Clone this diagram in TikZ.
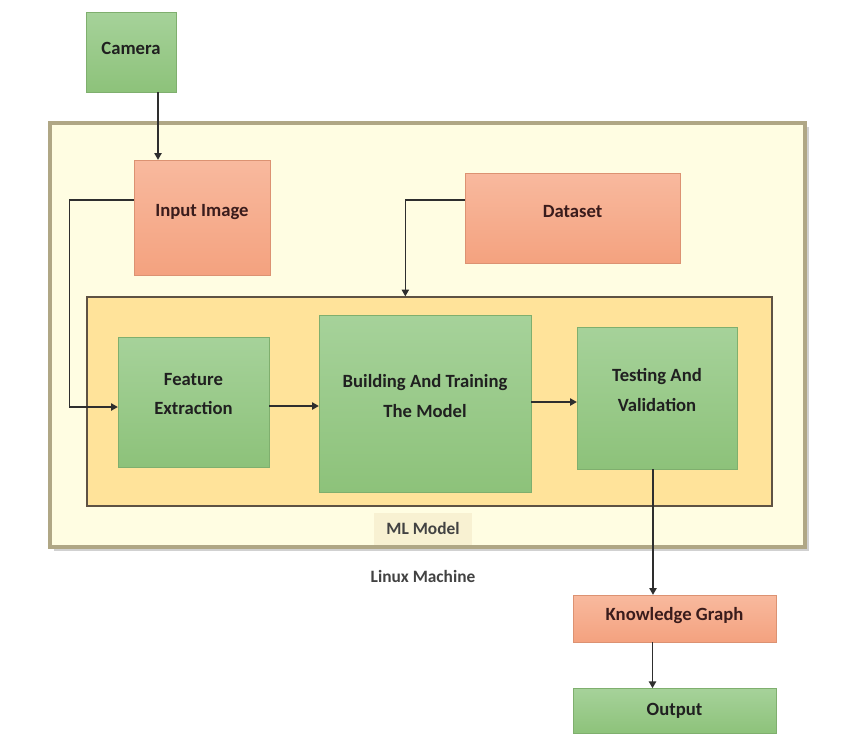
\documentclass[tikz,border=0pt]{standalone}
\usepackage{fontspec}
\setmainfont{Carlito}
\usetikzlibrary{arrows.meta,calc}
\definecolor{greenTop}{HTML}{A6D29A}
\definecolor{greenBot}{HTML}{8DC27A}
\definecolor{salTop}{HTML}{F8B99E}
\definecolor{salBot}{HTML}{F4A27F}
\definecolor{linuxFill}{HTML}{FFFDE2}
\definecolor{linuxEdge}{HTML}{B0A785}
\definecolor{mlFill}{HTML}{FFE39A}
\definecolor{mlEdge}{HTML}{5E5243}
\definecolor{mlLblFill}{HTML}{F8F1D2}
\definecolor{lineCol}{HTML}{2E2E2E}
\definecolor{txtDark}{HTML}{202020}
\definecolor{txtRed}{HTML}{3A1C1C}
\tikzset{
  x=0.75pt, y=-0.75pt,
  greenbox/.style={draw=greenBot!90!black, line width=0.3pt, top color=greenTop, bottom color=greenBot, inner sep=0pt},
  salbox/.style={draw=salBot!90!black, line width=0.3pt, top color=salTop, bottom color=salBot, inner sep=0pt},
  lbl/.style={font=\bfseries\fontsize{14}{22}\selectfont, align=center},
  smalllbl/.style={font=\bfseries\fontsize{13}{16}\selectfont, text=txtDark!85!white},
  arr/.style={draw=lineCol, line width=0.8pt, -{Triangle[width=5.5pt,length=5pt]}},
}
\begin{document}
\begin{tikzpicture}
\useasboundingbox[fill=white] (0,0) rectangle (846,733);
% Linux machine container
\fill[black!18] (54,127) rectangle (809,551);
\node[draw=linuxEdge, line width=3pt, fill=linuxFill, minimum width=566.25pt, minimum height=318pt, inner sep=0pt] (linux) at (427.5,335) {};
% ML model container
\node[draw=mlEdge, line width=1pt, fill=mlFill, minimum width=513.75pt, minimum height=156.75pt, inner sep=0pt] (ml) at (429.5,401.5) {};
\node[fill=mlLblFill, minimum width=73.5pt, minimum height=24pt, inner sep=0pt, smalllbl] (mllbl) at (423,528.5) {ML Model};
\node[smalllbl] (linuxlbl) at (423,576) {Linux Machine};
% boxes
\node[greenbox, minimum width=67.5pt, minimum height=60pt,
  label={[lbl, text=txtDark, yshift=3pt]center:Camera}] (camera) at (131,52) {};
\node[salbox, minimum width=102pt, minimum height=86.25pt,
  label={[lbl, text=txtRed, yshift=4pt]center:Input Image}] (input) at (202,217.5) {};
\node[salbox, minimum width=161.25pt, minimum height=67.5pt,
  label={[lbl, text=txtRed, yshift=4.5pt]center:Dataset}] (dataset) at (572.5,218) {};
\node[greenbox, minimum width=113.25pt, minimum height=97.5pt,
  label={[lbl, text=txtDark, yshift=6pt]center:Feature\\Extraction}] (fe) at (193.5,402) {};
\node[greenbox, minimum width=159pt, minimum height=132.75pt,
  label={[lbl, text=txtDark, yshift=5.5pt]center:Building And Training\\The Model}] (build) at (425,403.5) {};
\node[greenbox, minimum width=120pt, minimum height=106.5pt,
  label={[lbl, text=txtDark, yshift=6pt]center:Testing And\\Validation}] (test) at (657,398) {};
\node[salbox, minimum width=152.25pt, minimum height=35.25pt,
  label={[lbl, text=txtRed, yshift=2pt]center:Knowledge Graph}] (kg) at (674.5,618.5) {};
\node[greenbox, minimum width=152.25pt, minimum height=34pt,
  label={[lbl, text=txtDark]center:Output}] (out) at (674.5,711) {};
% connectors
\coordinate (camdown) at ($(camera.south)+(27,0)$);
\draw[arr] (camdown) -- (camdown |- input.north);
\draw[arr] ($(input.west)+(0,-17.5)$) -| ($(fe.west)+(-48,5)$) -- ($(fe.west)+(0,5)$);
\draw[arr] ($(dataset.west)+(0,-18)$) -| ($(ml.north west)+(319,0)$);
\draw[arr] ($(fe.east)+(0,4)$) -- ($(build.west)+(0,2.5)$);
\draw[arr] ($(build.east)+(0,-1.5)$) -- ($(test.west)+(0,4)$);
\coordinate (tdown) at ($(test.south)+(-4,0)$);
\draw[arr] (tdown) -- (tdown |- kg.north);
\coordinate (kdown) at ($(kg.south)+(-22,0)$);
\draw[arr] (kdown) -- (kdown |- out.north);
\end{tikzpicture}
\end{document}
